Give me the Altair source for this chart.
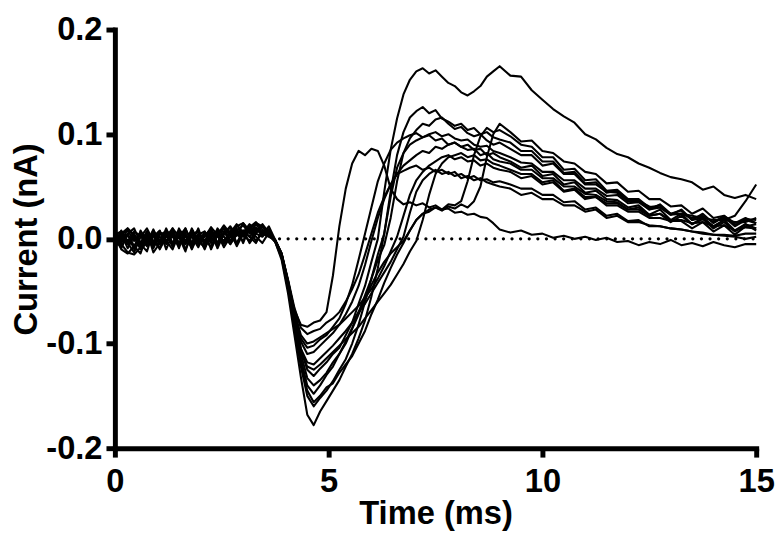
import altair as alt
import pandas as pd

# shared time grid (ms)
time_base = [0.0, 0.15, 0.3, 0.45, 0.6, 0.75, 0.9, 1.05, 1.2, 1.35, 1.5, 1.65, 1.8, 1.95, 2.1,
             2.25, 2.4, 2.55, 2.7, 2.85, 3.0, 3.15, 3.3, 3.45, 3.6]
time_mid = [3.75, 3.9, 4.05, 4.2, 4.35, 4.5, 4.65, 4.8, 4.95, 5.1, 5.25, 5.4, 5.55, 5.7, 5.85,
            6.0, 6.15, 6.3, 6.45, 6.6, 6.75, 6.9, 7.05, 7.2, 7.35, 7.5, 7.65, 7.8, 7.95, 8.1,
            8.25, 8.4, 8.55, 8.7, 8.85, 9.0]
time_tail = [9.25, 9.5, 9.75, 10.0, 10.25, 10.5, 10.75, 11.0, 11.25, 11.5, 11.75, 12.0, 12.25,
             12.5, 12.75, 13.0, 13.25, 13.5, 13.75, 14.0, 14.25, 14.5, 14.75, 15.0]
time_ms = time_base + time_mid + time_tail

# current traces in pA
trace_a = [3, -10, -14, -7, 5, -4, 9, -5, 2, 10, -7, 4, -9, 5, -2, 7, -5, 12, 3, 13, 6, 14, 9, 5, 2,
           -1, -14, -42, -75, -105, -125, -131, -124, -118, -110, -104, -92, -80, -62, -45, -22, 0, 45,
           85, 115, 138, 152, 160, 163, 158, 161, 155, 149, 146, 140, 137, 141, 146, 155, 160, 165,
           156, 155, 142, 133, 124, 117, 111, 100, 95, 87, 81, 78, 72, 68, 63, 59, 57, 54, 47, 50, 42, 39, 42, 38]
trace_b = [-5, 7, -4, -13, 2, 10, -2, -9, 5, -4, 7, -10, 3, 8, -5, 2, -7, 5, 12, 3, 15, 8, -2, 6, 3,
           -2, -16, -42, -68, -82, -84, -80, -78, -70, -35, 12, 48, 72, 84, 80, 86, 84, 70, 48, 38,
           33, 35, 32, 34, 30, 32, 28, 29, 25, 26, 23, 24, 21, 20, 15, 9,
           6, 8, 4, 5, 1, 3, 0, 2, -1, 1, -3, -2, -6, -3, -5, -1, -6, -4, -7, -3, -6, -8, -5, -5]
trace_c = [8, -2, 5, -7, -14, 4, -5, 7, -2, -10, 5, 2, -4, 10, -7, 3, 8, -4, 6, 14, 5, 11, 16, 9, 4,
           -3, -18, -48, -85, -122, -150, -160, -152, -145, -136, -125, -115, -100, -82, -60, -38, -15, 5,
           45, 80, 102, 116, 122, 126, 120, 123, 115, 112, 108, 110, 104, 106, 100, 102, 97, 95,
           92, 84, 84, 74, 74, 63, 64, 53, 54, 44, 46, 36, 37, 28, 33, 24, 27, 18, 24, 15, 21, 12, 18, 15]
trace_d = [-2, 5, -9, 3, -5, -12, 7, -4, 8, 2, -7, 5, -10, 4, 7, -2, 5, -8, 2, 10, -4, 12, 6, 13, 3,
           -2, -16, -46, -82, -118, -145, -156, -150, -142, -138, -128, -120, -112, -100, -88, -72, -58, -42,
           -28, -15, -4, 8, 18, 24, 28, 30, 27, 31, 29, 33, 30, 36, 50, 78, 100, 110,
           102, 93, 94, 84, 82, 74, 72, 64, 62, 53, 54, 45, 46, 38, 38, 31, 32, 24, 29, 20, 22, 15, 20, 15]
trace_e = [7, -4, 10, 2, -5, 7, -13, -4, 5, -7, 10, -2, 5, -5, 2, 11, -4, 7, -2, 8, 13, 5, 14, 6, 9,
           -2, -15, -45, -80, -115, -140, -148, -140, -130, -122, -110, -100, -86, -72, -58, -44, -32, -22,
           -14, -8, -2, 8, 18, 24, 26, 30, 28, 33, 32, 36, 55, 80, 98, 106, 102, 104,
           98, 90, 88, 78, 78, 66, 67, 56, 57, 46, 47, 38, 38, 30, 32, 23, 28, 18, 20, 12, 18, 8, 14, 10]
trace_f = [-9, 2, -5, 7, 3, -7, 2, 8, -10, 5, -4, 7, 2, -8, 5, -4, 10, 2, -5, 7, 4, -2, 8, 12, 5,
           -2, -15, -44, -78, -110, -133, -140, -135, -128, -118, -110, -98, -85, -70, -54, -38, -20, -6,
           20, 55, 82, 96, 104, 110, 108, 114, 116, 110, 105, 107, 101, 98, 100, 94, 90, 92,
           86, 80, 80, 70, 72, 62, 62, 52, 52, 45, 44, 36, 36, 31, 30, 24, 24, 20, 22, 16, 22, 13, 19, 18]
trace_g = [2, -7, 4, -10, 8, -2, 5, -5, 10, -4, 2, -12, 7, -2, 4, 8, -5, 4, 11, -4, 7, 2, 10, 3, 8,
           -1, -14, -40, -70, -95, -104, -102, -96, -92, -84, -76, -62, -44, -20, 5, 30, 55, 72,
           85, 92, 96, 99, 101, 97, 99, 94, 96, 90, 92, 88, 85, 86, 80, 82, 76, 74,
           72, 66, 66, 58, 58, 50, 50, 43, 42, 36, 35, 28, 30, 22, 24, 18, 18, 15, 16, 12, 13, 8, 11, 10]
trace_h = [-4, 8, -2, 5, -7, 2, -9, 4, 7, -5, 8, 4, -7, 2, -10, 5, 2, -4, 8, 5, -2, 10, 5, 14, 6,
           -2, -15, -41, -72, -98, -110, -108, -102, -96, -90, -82, -72, -60, -45, -25, -2, 20, 38,
           52, 62, 70, 75, 80, 84, 82, 88, 86, 90, 92, 88, 90, 85, 86, 80, 82, 78,
           74, 68, 70, 60, 62, 52, 54, 44, 46, 38, 37, 30, 32, 23, 28, 18, 24, 14, 19, 10, 16, 7, 14, 8]
trace_i = [5, -5, -13, -15, -8, 3, -4, 7, -2, 5, -9, 10, -4, 4, -2, -7, 5, 10, -5, 4, 8, -4, 5, 2, 9,
           -2, -15, -40, -70, -92, -100, -98, -94, -90, -86, -82, -76, -70, -64, -56, -48, -38, -26,
           -12, 2, 22, 42, 56, 64, 70, 74, 78, 80, 76, 78, 74, 75, 70, 72, 68, 66,
           64, 58, 60, 52, 54, 45, 47, 38, 40, 32, 32, 26, 26, 20, 20, 17, 17, 10, 16, 7, 13, 4, 12, 14]
trace_j = [-7, 4, 8, -2, 5, -5, 4, -10, 2, 7, -4, -2, 8, -5, 7, -10, 4, -2, 7, -7, 5, 10, 2, -4, 6,
           -2, -16, -43, -76, -105, -118, -120, -114, -108, -102, -95, -88, -80, -70, -62, -52, -42, -32,
           -22, -10, 2, 25, 45, 56, 62, 66, 62, 64, 60, 62, 58, 60, 56, 57, 54, 55,
           52, 48, 48, 42, 42, 35, 36, 28, 30, 22, 24, 17, 18, 12, 12, 10, 9, 7, 5, 4, 3, 2, 0, 2]
trace_k = [0, -9, 5, 10, -4, 7, -7, 2, -5, 8, 4, -5, 10, -2, -8, 4, 7, -5, 2, 12, 15, 6, 11, 4, 12,
           -1, -14, -39, -66, -85, -91, -88, -86, -80, -76, -70, -60, -48, -34, -15, 5, 25, 40,
           52, 62, 65, 68, 70, 66, 68, 64, 66, 62, 64, 58, 60, 56, 58, 54, 52, 50,
           48, 42, 44, 38, 38, 32, 32, 26, 28, 20, 22, 16, 16, 13, 12, 10, 9, 7, 6, 4, 4, 3, 5, 5]
trace_l = [4, 7, -5, 2, -10, -4, 8, -2, 5, -7, 2, 10, -5, 4, -4, 7, -9, 5, 4, -5, 8, 2, -4, 8, 5,
           -3, -20, -52, -92, -132, -168, -178, -165, -155, -145, -135, -122, -110, -95, -78, -55, -28, 5,
           40, 68, 82, 90, 94, 97, 100, 102, 98, 100, 96, 94, 95, 90, 88, 89, 84, 82,
           78, 73, 72, 64, 64, 56, 56, 48, 48, 41, 42, 34, 35, 28, 30, 23, 24, 22, 20, 18, 18, 16, 16, 20]
trace_m = [-2, 5, 10, 4, -5, 2, -7, 7, -4, 10, 2, -5, 4, 7, -4, 11, 4, 13, 5, 8, 2, 10, 15, 12, 6,
           -2, -16, -44, -78, -108, -122, -125, -120, -114, -108, -102, -96, -90, -84, -76, -68, -60, -52,
           -44, -34, -24, -12, -2, 18, 42, 62, 72, 78, 80, 82, 78, 80, 75, 76, 72, 70,
           66, 62, 62, 54, 56, 46, 48, 40, 40, 34, 34, 28, 28, 22, 24, 16, 22, 14, 20, 12, 18, 22, 36, 52]

traces = {"a": trace_a, "b": trace_b, "c": trace_c, "d": trace_d, "e": trace_e, "f": trace_f,
          "g": trace_g, "h": trace_h, "i": trace_i, "j": trace_j, "k": trace_k, "l": trace_l,
          "m": trace_m}

# dotted zero reference line extent (ms)
zero_start = [3.85]
zero_end = [15.0]

rows = []
for name, vals in traces.items():
    for t, v in zip(time_ms, vals):
        rows.append({"trace": name, "t": t, "i": v / 1000.0})
df = pd.DataFrame(rows)
zdf = pd.DataFrame({"x0": zero_start, "x1": zero_end, "y": [0.0]})

xscale = alt.Scale(domain=[0, 15], nice=False, zero=False)
yscale = alt.Scale(domain=[-0.2, 0.2], nice=False, zero=False)

lines = alt.Chart(df).mark_line(color="black", strokeWidth=2.1, strokeJoin="round").encode(
    x=alt.X("t:Q", scale=xscale,
            axis=alt.Axis(values=[0, 5, 10, 15], format="d", title="Time (ms)",
                          labelFlush=False, labelPadding=9, titlePadding=-1)),
    y=alt.Y("i:Q", scale=yscale,
            axis=alt.Axis(values=[-0.2, -0.1, 0.0, 0.1, 0.2], title="Current (nA)",
                          labelPadding=4, titlePadding=2,
                          labelExpr="datum.value < 0 ? '-' + format(-datum.value, '.1f') : format(datum.value, '.1f')")),
    detail="trace:N",
)

zero_line = alt.Chart(zdf).mark_rule(color="black", strokeWidth=3.2, strokeDash=[0.1, 8.6],
                                     strokeCap="round").encode(
    x=alt.X("x0:Q", scale=xscale),
    x2="x1:Q",
    y=alt.Y("y:Q", scale=yscale),
)

chart = alt.layer(zero_line, lines).properties(
    width=648, height=423,
    padding={"left": 108, "top": 19, "right": 19, "bottom": 90},
    autosize=alt.AutoSizeParams(type="none"),
).configure_view(stroke=None).configure_axis(
    grid=False,
    domainColor="black", domainWidth=5, domainCap="square",
    tickColor="black", tickWidth=5, tickSize=9,
    labelFont="Liberation Sans", labelFontWeight="bold", labelFontSize=33, labelColor="black",
    titleFont="Liberation Sans", titleFontWeight="bold", titleFontSize=33, titleColor="black",
)

chart.save("out.html", embed_options={"renderer": "svg", "actions": False})
